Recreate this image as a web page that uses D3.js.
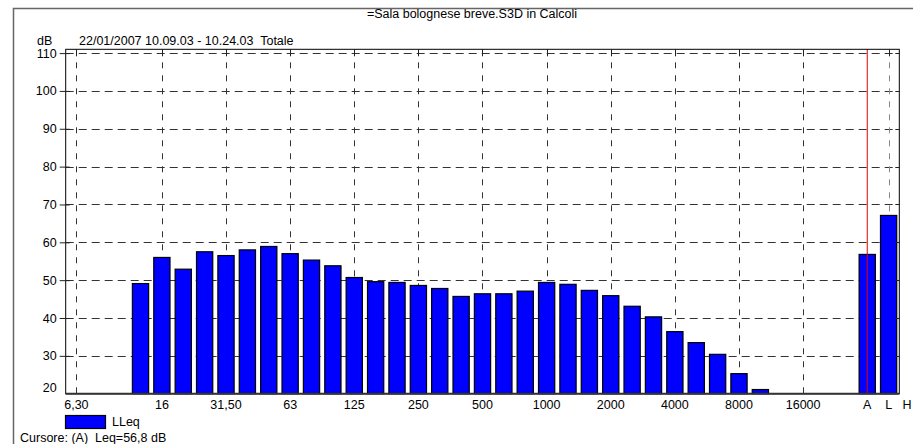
<!DOCTYPE html>
<html>
<head>
<meta charset="utf-8">
<script src="https://cdn.jsdelivr.net/npm/d3@7"></script>
<style>
body { margin: 0; background: #fff; }
text { font-family: Arial, "Liberation Sans", sans-serif; fill: #000; white-space: pre; }
</style>
</head>
<body>
<svg id="chart" width="913" height="444"></svg>
<script>
// third-octave bands, then the broadband A / L / H slots
var bands = ["6,30", "8", "10", "12,5", "16", "20", "25", "31,50", "40", "50", "63", "80", "100",
	"125", "160", "200", "250", "315", "400", "500", "630", "800", "1000", "1250", "1600", "2000",
	"2500", "3150", "4000", "5000", "6300", "8000", "10000", "12500", "16000", "20000", "-", "A", "L", "H"]
var lleq = [20, 20, 20, 49.1, 56.0, 52.9, 57.5, 56.5, 58.0, 58.9, 57.0, 55.3, 53.8,
	50.7, 49.6, 49.4, 48.6, 47.8, 45.7, 46.4, 46.4, 47.1, 49.4, 48.9, 47.3, 45.9,
	43.1, 40.3, 36.4, 33.5, 30.4, 25.3, 21.1, 20, 20, 20, 20, 56.8, 67.1, null]
var xTickLabels = ["6,30", "16", "31,50", "63", "125", "250", "500", "1000", "2000", "4000", "8000", "16000", "A", "L", "H"]
var gridBands = ["6,30", "16", "31,50", "63", "125", "250", "500", "1000", "2000", "4000", "8000", "16000", "L"]
var yTicks = [20, 30, 40, 50, 60, 70, 80, 90, 100, 110]
var cursorBand = "A"
var title = "=Sala bolognese breve.S3D in Calcoli"
var subtitle = "22/01/2007 10.09.03 - 10.24.03  Totale"
var seriesName = "LLeq"
var cursorText = "Cursore: (A)  Leq=56,8 dB"

var chart = d3.select("#chart")
const LEFT = 65.7, RIGHT = 899.3, TOP = 49.3, BOTTOM = 393.7
var STEP = (RIGHT - LEFT) / 39
var FS = "12.5px"

var x = d3.scaleBand().domain(bands).range([LEFT, LEFT + STEP * bands.length]).paddingInner(0.24).paddingOuter(0.12)
var y = d3.scaleLinear().domain([20, 111]).range([BOTTOM, TOP])
var cx = d => x(d) + x.bandwidth() / 2

// outer frame
chart.append("path")
	.attr("d", "M13.5,444 L13.5,8.5 L913,8.5")
	.attr("fill", "none").attr("stroke", "#666").attr("stroke-width", 1.5)

chart.append("text").attr("x", 472).attr("y", 18).attr("text-anchor", "middle")
	.attr("font-size", FS).text(title)
chart.append("text").attr("x", 37).attr("y", 45).attr("font-size", FS).text("dB")
chart.append("text").attr("x", 79).attr("y", 45).attr("font-size", FS).text(subtitle)

// grid
var grid = chart.append("g").attr("stroke", "#333").attr("stroke-width", 1)
grid.selectAll("line.h").data(yTicks.filter(d => d > 20)).enter()
	.append("line").attr("class", "h")
	.attr("x1", LEFT).attr("x2", RIGHT)
	.attr("y1", d => Math.round(y(d)) + 0.5).attr("y2", d => Math.round(y(d)) + 0.5)
	.attr("stroke-dasharray", "8,5")
grid.selectAll("line.v").data(gridBands).enter()
	.append("line").attr("class", "v")
	.attr("x1", d => Math.round(cx(d)) + 0.5).attr("x2", d => Math.round(cx(d)) + 0.5)
	.attr("y1", TOP).attr("y2", BOTTOM)
	.attr("stroke", d => d == "L" ? "#888" : "#333")
	.attr("stroke-dasharray", "6,7")

// bars
chart.append("g").selectAll("rect").data(bands.map((b, i) => ({ band: b, value: lleq[i] })).filter(d => d.value != null))
	.enter().append("rect")
	.attr("x", d => x(d.band))
	.attr("width", x.bandwidth())
	.attr("y", d => y(d.value))
	.attr("height", d => BOTTOM - y(d.value))
	.attr("fill", "#0000ff")
	.attr("stroke", "#000").attr("stroke-width", 1.2)

// cursor
chart.append("line")
	.attr("x1", cx(cursorBand)).attr("x2", cx(cursorBand))
	.attr("y1", TOP).attr("y2", BOTTOM)
	.attr("stroke", "#e00000").attr("stroke-width", 1)

// frame of plot
chart.append("rect").attr("x", LEFT).attr("y", TOP).attr("width", RIGHT - LEFT).attr("height", BOTTOM - TOP)
	.attr("fill", "none").attr("stroke", "#000").attr("stroke-width", 1)
chart.append("line").attr("x1", LEFT).attr("x2", RIGHT).attr("y1", BOTTOM).attr("y2", BOTTOM)
	.attr("stroke", "#333").attr("stroke-width", 2)

// y axis
var yAxis = chart.append("g").attr("transform", "translate(" + LEFT + ",0)")
	.call(d3.axisLeft(y).tickValues(yTicks).tickSize(6))
yAxis.select(".domain").remove()
yAxis.selectAll(".tick line").attr("x2", -6).attr("x1", 4).attr("stroke", "#222")
yAxis.selectAll(".tick text").attr("font-size", FS).attr("font-family", "Arial, 'Liberation Sans', sans-serif")
	.attr("x", -9)
	.attr("dy", d => d == 20 ? "-0.2em" : "0.32em")
yAxis.selectAll(".tick").filter(d => d == 20).select("line").remove()

// top/right small ticks
chart.append("g").selectAll("line").data(gridBands).enter().append("line")
	.attr("x1", d => Math.round(cx(d)) + 0.5).attr("x2", d => Math.round(cx(d)) + 0.5)
	.attr("y1", TOP).attr("y2", TOP + 7).attr("stroke", "#222")
chart.append("g").selectAll("line").data(yTicks.filter(d => d > 20)).enter().append("line")
	.attr("x1", RIGHT - 4).attr("x2", RIGHT)
	.attr("y1", d => Math.round(y(d)) + 0.5).attr("y2", d => Math.round(y(d)) + 0.5).attr("stroke", "#222")

// x labels
var xAxis = chart.append("g").attr("transform", "translate(0," + BOTTOM + ")")
	.call(d3.axisBottom(x).tickValues(xTickLabels).tickSize(0))
xAxis.select(".domain").remove()
xAxis.selectAll(".tick text").attr("font-size", FS).attr("font-family", "Arial, 'Liberation Sans', sans-serif")
	.attr("y", 6).attr("dy", "0.71em")
	.attr("dx", d => d == "H" ? -3 : 0)

// legend
chart.append("rect").attr("x", 65.5).attr("y", 415.5).attr("width", 40).attr("height", 13)
	.attr("fill", "#0000ff").attr("stroke", "#000").attr("stroke-width", 1.2)
chart.append("text").attr("x", 112).attr("y", 426).attr("font-size", FS).text(seriesName)
chart.append("text").attr("x", 20).attr("y", 442).attr("font-size", FS).text(cursorText)
</script>
</body>
</html>
